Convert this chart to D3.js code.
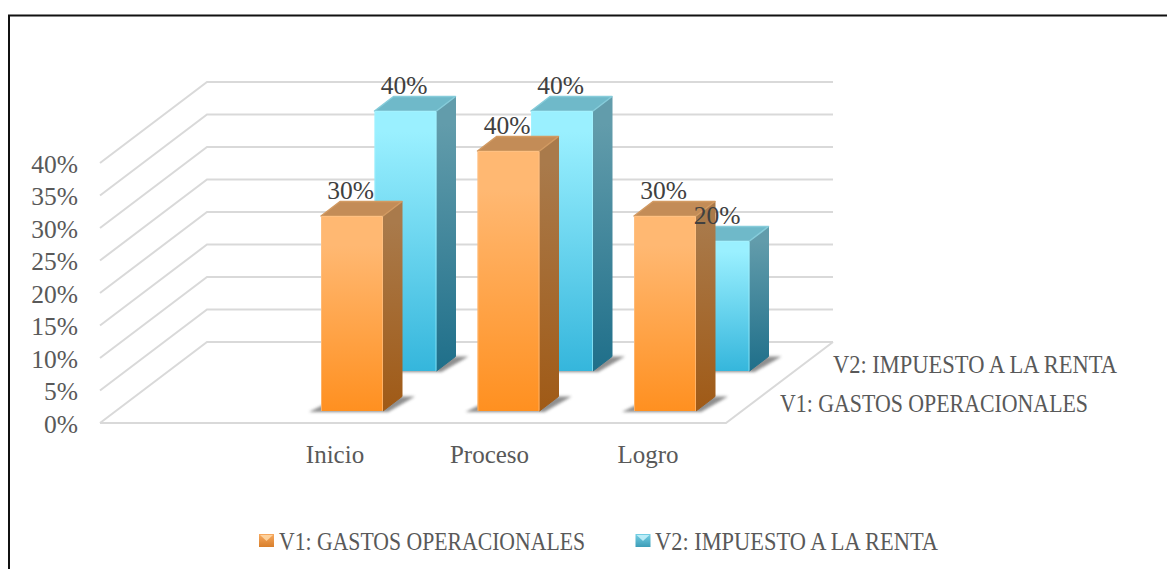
<!DOCTYPE html>
<html><head><meta charset="utf-8">
<script src="https://cdn.jsdelivr.net/npm/d3@7"></script>
<style>
html,body{margin:0;padding:0;background:#fff;overflow:hidden}
svg{display:block}
text{font-family:"Liberation Serif",serif;fill:#595959}
</style></head><body><div id="c"></div>
<script>
const categories=["Inicio","Proceso","Logro"];
const seriesNames=["V1: GASTOS OPERACIONALES","V2: IMPUESTO A LA RENTA"];
const v1=[30,40,30];
const v2=[40,40,20];
const yTicks=[0,5,10,15,20,25,30,35,40];
const W=1167,H=569;
const svg=d3.select("#c").append("svg").attr("width",W).attr("height",H);
const defs=svg.append("defs");
function grad(id,a,b,start){const g=defs.append("linearGradient").attr("id",id).attr("x1",0).attr("x2",0).attr("y1",0).attr("y2",1);
 g.append("stop").attr("offset",start).attr("stop-color",a);g.append("stop").attr("offset","1").attr("stop-color",b);}
grad("fo","#ffb872","#ff9020",0.15);grad("so","#a97a4b","#a05a16",0.1);
grad("fb","#9af0ff","#35b6dc",0.08);grad("sb","#629cab","#1f6f8a",0.1);
grad("lo","#f7a95f","#d87f2c",0);grad("lb","#74cfe4","#3d9db8",0);
const blur=defs.append("filter").attr("id","blur").attr("x","-30%").attr("y","-100%").attr("width","160%").attr("height","300%");
blur.append("feGaussianBlur").attr("stdDeviation",1.8);

const y=d3.scaleLinear().domain([0,40]).range([423,163]);
const depthX=d3.scaleLinear().domain([0,1]).range([100,207]);
const depthY=d3.scaleLinear().domain([0,1]).range([0,-81]);
const floorX=d3.scaleLinear().domain([0,1]).range([0,626]);
const cat=d3.scalePoint().domain(categories).range([321,634]);
const catLabelX=d3.scaleOrdinal(categories,[335,489.5,648]);
const P=(fx,d,v)=>[depthX(d)+floorX(fx),y(v)+depthY(d)];
const ln=d3.line();

const grid=svg.append("g").attr("fill","none").attr("stroke","#d9d9d9").attr("stroke-width",2);
grid.selectAll("path").data(yTicks).join("path").attr("d",t=>ln([P(0,0,t),P(0,1,t),P(1,1,t)]));
grid.append("path").attr("d",ln([P(0,0,0),P(1,0,0),P(1,1,0)]));

svg.append("g").selectAll("text").data(yTicks).join("text")
 .attr("x",78).attr("y",t=>y(t)+9.5).attr("text-anchor","end").attr("font-size",25.5).text(t=>t+"%");

const series=[
 {vals:v2,d:0.642,id:"b",off:53.5,top:"#6fb9c9",edge:"#a9f3ff",topEdge:"#86ccda"},
 {vals:v1,d:0.148,id:"o",off:0,top:"#c38c57",edge:"#ffc48c",topEdge:"#d29a62"}];
const bw=62,dx=19,dy=14.5;
const marks=svg.append("g");
series.forEach(s=>{
 const base=P(0,s.d,0)[1];
 s.vals.forEach((v,i)=>{
  const g=marks.append("g");
  const x0=cat(categories[i])+s.off;
  const ht=y(0)-y(v),top=base-ht;
  g.append("path").attr("d",ln([[x0-12,base+1],[x0+dx,base-dy],[x0+bw+dx+13,base-dy],[x0+bw+5,base+1]])+"Z")
   .attr("fill","#444").attr("opacity",.6).attr("filter","url(#blur)");
  g.append("path").attr("d",ln([[x0+bw,top],[x0+bw+dx,top-dy],[x0+bw+dx,base-dy],[x0+bw,base]])+"Z")
   .attr("fill",`url(#s${s.id})`).attr("stroke",`url(#s${s.id})`).attr("stroke-linejoin","round");
  g.append("path").attr("d",ln([[x0,top],[x0+dx,top-dy],[x0+bw+dx,top-dy],[x0+bw,top]])+"Z")
   .attr("fill",s.top).attr("stroke",s.topEdge).attr("stroke-width",1.5).attr("stroke-linejoin","round");
  g.append("rect").attr("x",x0).attr("y",top).attr("width",bw).attr("height",ht).attr("rx",1.5).attr("fill",`url(#f${s.id})`);
  g.append("path").attr("d",ln([[x0+.5,base],[x0+.5,top+.5],[x0+bw-.5,top+.5],[x0+bw-.5,base]]))
   .attr("fill","none").attr("stroke",s.edge).attr("stroke-opacity",.6);
 });
});
series.forEach(s=>{
 const base=P(0,s.d,0)[1];
 s.vals.forEach((v,i)=>{
  marks.append("text").attr("x",cat(categories[i])+s.off+29.5).attr("y",base-(y(0)-y(v))-17)
   .attr("text-anchor","middle").attr("font-size",25.5).style("fill","#404040").text(v+"%");
 });
});
svg.append("g").selectAll("text").data(categories).join("text")
 .attr("x",d=>catLabelX(d)).attr("y",463).attr("text-anchor","middle").attr("font-size",25).text(d=>d);
function fit(x,yy,w,t){svg.append("text").attr("x",x).attr("y",yy).attr("font-size",24.5)
 .attr("textLength",w).attr("lengthAdjust","spacingAndGlyphs").text(t);}
fit(833,373,284,seriesNames[1]);
fit(780,412,308,seriesNames[0]);
[[259,"lo","#ffd9a8",279,306,seriesNames[0]],[635.5,"lb","#c8f2fb",655,283,seriesNames[1]]].forEach(l=>{
 svg.append("rect").attr("x",l[0]).attr("y",534).attr("width",15).attr("height",13).attr("fill",`url(#${l[1]})`);
 svg.append("path").attr("d",ln([[l[0]+1,535],[l[0]+14,535],[l[0]+7.5,541]])+"Z").attr("fill",l[2]).attr("opacity",.85);
 fit(l[3],550,l[4],l[5]);
});
svg.append("path").attr("d","M1167,15.5H9V569").attr("fill","none").attr("stroke","#111").attr("stroke-width",2);
</script></body></html>
